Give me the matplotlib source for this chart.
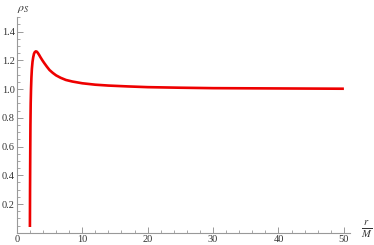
import matplotlib
matplotlib.use("Agg")
import matplotlib.pyplot as plt
from matplotlib.ticker import MultipleLocator

plt.rcParams['font.family'] = ['Liberation Serif', 'DejaVu Serif']
plt.rcParams['mathtext.fontset'] = 'stix'

# values
r_vals = [2.0, 2.02, 2.05, 2.08, 2.12, 2.17, 2.23, 2.3, 2.4, 2.5, 2.62, 2.75,
          2.9, 3.05, 3.2, 3.4, 3.6, 3.9, 4.2, 4.6, 5.0, 5.5, 6.0, 6.7, 7.5,
          8.5, 10.0, 12.0, 14.0, 17.0, 20.0, 25.0, 30.0, 35.0, 40.0, 45.0, 50.0]
rho_vals = [0.04, 0.3, 0.55, 0.75, 0.9, 1.0, 1.08, 1.14, 1.19, 1.22, 1.245, 1.257,
            1.262, 1.26, 1.252, 1.238, 1.222, 1.2, 1.18, 1.155, 1.132, 1.112, 1.095,
            1.078, 1.063, 1.052, 1.04, 1.03, 1.024, 1.018, 1.013, 1.009, 1.006,
            1.005, 1.004, 1.003, 1.002]

x_major = [0, 10, 20, 30, 40, 50]
y_major = [0.2, 0.4, 0.6, 0.8, 1.0, 1.2, 1.4]

fig = plt.figure(figsize=(3.74, 2.45), dpi=100)
ax = fig.add_axes([0.045, 0.050, 0.892, 0.88])

ax.plot(r_vals, rho_vals, color='#ee0000', lw=1.9, solid_capstyle='butt')

ax.set_xlim(0, 51)
ax.set_ylim(0, 1.5)
for s in ['top', 'right']:
    ax.spines[s].set_visible(False)
for s in ['left', 'bottom']:
    ax.spines[s].set_color('#999999')
    ax.spines[s].set_linewidth(0.8)

ax.set_xticks(x_major)
ax.set_yticks(y_major)
ax.set_yticklabels(['0.2', '0.4', '0.6', '0.8', '1.0', '1.2', '1.4'])
ax.xaxis.set_minor_locator(MultipleLocator(2))
ax.yaxis.set_minor_locator(MultipleLocator(0.05))
ax.tick_params(which='both', direction='in', color='#999999', labelsize=7.5, labelcolor='#333333')
ax.tick_params(which='major', length=4, width=0.7, pad=1.5)
ax.tick_params(which='minor', length=2, width=0.6)

fig.text(0.045, 0.965, r'$\rho_S$', fontsize=8.5, color='#333333', ha='left', va='center')
fig.text(0.995, 0.065, r'$\frac{r}{M}$', fontsize=11, color='#333333', ha='right', va='center')

fig.savefig('out.png', dpi=100)
